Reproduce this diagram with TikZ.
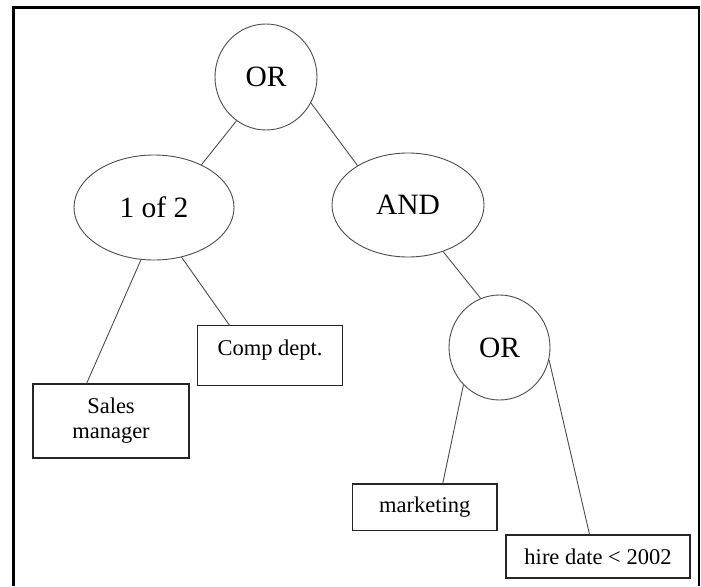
\documentclass[tikz,border=0pt]{standalone}
\usepackage{fontspec}
\setmainfont{Liberation Serif}
\usetikzlibrary{shapes.geometric}
\begin{document}
\begin{tikzpicture}[x=1pt,y=-1pt,
  oval/.style={ellipse, draw=black!70, line width=0.9pt, inner sep=0pt, font=\fontsize{29.5}{32}\selectfont},
  leaf/.style={rectangle, draw=black!85, line width=1.1pt, inner sep=0pt, font=\fontsize{22.5}{25}\selectfont, align=center},
  edge/.style={draw=black!70, line width=0.9pt},
  frame/.style={draw=black, line width=2.6pt}]
\useasboundingbox (0,0) rectangle (701,586);
\draw[frame] (13.5,586) -- (13.5,7.3) -- (699,7.3) -- (699,586);

\node[oval, minimum width=102pt, minimum height=106pt] (or1) at (266,77) {OR};
\node[oval, minimum width=160pt, minimum height=105pt] (of2) at (154,207.5) {1 of 2};
\node[oval, minimum width=152pt, minimum height=104pt] (and) at (408,205) {AND};
\node[oval, minimum width=101pt, minimum height=105pt] (or2) at (499.5,347.5) {OR};
\node[leaf, minimum width=156pt, minimum height=74pt] (sales) at (111,421) {Sales\\manager};
\node[leaf, minimum width=145pt, minimum height=60pt, text height=16pt, text depth=16pt] (comp) at (270,355.7) {Comp dept.};
\node[leaf, minimum width=144.5pt, minimum height=46.7pt] (mkt) at (424.75,507.35) {marketing};
\node[leaf, minimum width=184pt, minimum height=43pt] (hire) at (598,556.5) {hire date < 2002};

\draw[edge] (or1.236.6) -- (of2.42.2);
\draw[edge] (or1.-30.4) -- (and.142.6);
\draw[edge] (of2.-104.4) -- (sales.123.3);
\draw[edge] (of2.-61.9) -- (comp.143.1);
\draw[edge] (and.-53.4) -- (or2.111.5);
\draw[edge] (or2.226.1) -- (mkt.53.1);
\draw[edge] (or2.-14.7) -- (hire.111.3);
\end{tikzpicture}
\end{document}
